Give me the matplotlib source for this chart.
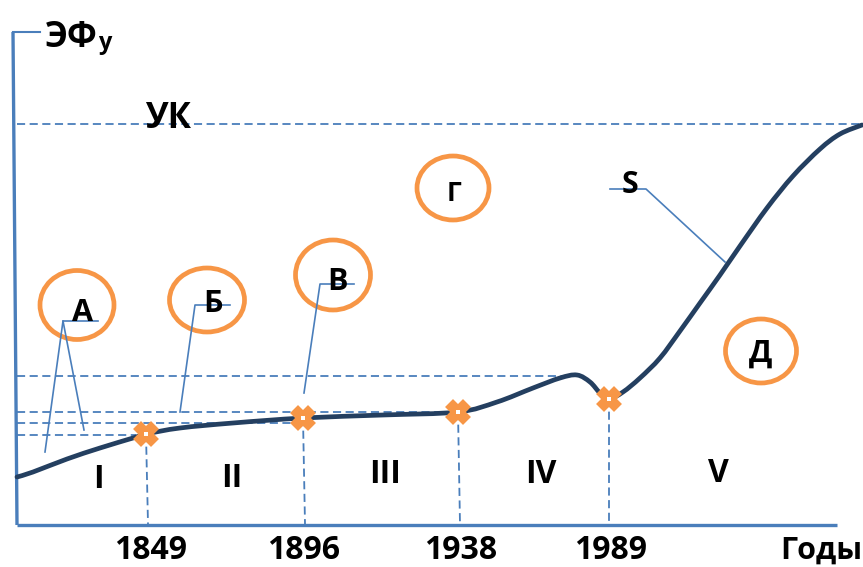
import numpy as np
import matplotlib.pyplot as plt
from matplotlib.patches import Ellipse, PathPatch
from matplotlib.path import Path

plt.rcParams['font.family'] = ['Open Sans', 'DejaVu Sans']
plt.rcParams['font.weight'] = 'bold'

# colours
axis_blue = '#4a7ebb'
curve_navy = '#243f60'
orange = '#f79646'

# ---------------------------------------------------------
# Data (pixel units, y counted from top)
# ---------------------------------------------------------
curve_x = [17, 33, 67, 100, 133, 146, 180, 233, 303, 383, 458, 497, 533, 560, 577,
           590, 600, 609, 623, 640, 660, 680, 700, 720, 740, 767, 793, 820, 840, 862]
curve_y = [477, 472, 459, 448, 438, 434, 428, 423, 418, 415, 412, 402, 388, 378, 375,
           382, 393, 399, 392, 378, 358, 331, 303, 275, 246, 208, 176, 149, 134, 125]

years = ['1849', '1896', '1938', '1989']
year_x = [151, 304, 461, 611]
node_x = [146, 303, 458, 609]
node_y = [434, 418, 412, 399]

periods = ['I', 'II', 'III', 'IV', 'V']
period_x = [98, 232, 385, 541, 718]
period_y = [488, 487, 483, 483, 482]

# dashed levels (y, right end)
level_y = [376, 412, 423, 435]
level_end = [575, 452, 296, 136]
uk_y = 124

# lettered circles
circle_labels = ['А', 'Б', 'В', 'Г', 'Д']
circle_x = [77, 207, 333, 453, 761]
circle_y = [305, 300, 275, 188, 351]
circle_w = [74, 75, 75, 72, 71]
circle_h = [69, 64, 70, 64, 64]
label_x = [82, 213, 337, 454, 761]
label_base = [321, 312, 290, 201, 362]
label_size = [22, 22, 22, 19, 22]

# callout leader lines
callouts = [
    [(98, 321), (63, 321), (45, 452)],
    [(63, 321), (84, 430)],
    [(230, 305), (195, 305), (180, 412)],
    [(354, 284), (320, 284), (304, 393)],
    [(610, 189), (646, 189), (725, 262)],
]


def smooth_path(xs, ys):
    # Catmull-Rom points -> cubic bezier path
    p = np.column_stack([xs, ys]).astype(float)
    p = np.vstack([p[0], p, p[-1]])
    verts = [p[1]]
    codes = [Path.MOVETO]
    for i in range(1, len(p) - 2):
        c1 = p[i] + (p[i + 1] - p[i - 1]) / 6
        c2 = p[i + 1] - (p[i + 2] - p[i]) / 6
        verts += [c1, c2, p[i + 1]]
        codes += [Path.CURVE4] * 3
    return Path(verts, codes)


fig = plt.figure(figsize=(8.63, 5.67), dpi=100)
ax = fig.add_axes([0, 0, 1, 1])
ax.set_xlim(0, 863)
ax.set_ylim(567, 0)
ax.axis('off')

dash = dict(color=axis_blue, lw=1.3, dashes=(4.5, 2.5))

# axes of the diagram
ax.plot([13, 17], [32, 525], color=axis_blue, lw=2.4, solid_capstyle='butt')
ax.plot([13, 40], [32, 32], color=axis_blue, lw=1.5)
ax.plot([17, 837], [525, 525], color=axis_blue, lw=2.4, solid_capstyle='butt')

# dashed guides
ax.plot([17, 863], [uk_y, uk_y], **dash)
for y, xe in zip(level_y, level_end):
    ax.plot([17, xe], [y, y], **dash)
for x, y in zip(node_x, node_y):
    ax.plot([x, x + (2 if x < 600 else 0)], [y, 524], **dash)

# callouts
for pts in callouts:
    xs, ys = zip(*pts)
    ax.plot(xs, ys, color=axis_blue, lw=1.2)

# main curve
ax.add_patch(PathPatch(smooth_path(curve_x, curve_y), fill=False,
                       edgecolor=curve_navy, lw=3.4, capstyle='round', zorder=3))

# nodes
ax.plot(node_x, node_y, 'X', ms=14, color=orange, mec=orange, mew=3,
        zorder=4)
ax.plot(node_x, node_y, 's', ms=2.2, color='white', mew=0, zorder=5)

# circles with letters
for lab, cx, cy, w, h, lx, lb, fs in zip(circle_labels, circle_x, circle_y, circle_w,
                                          circle_h, label_x, label_base, label_size):
    ax.add_patch(Ellipse((cx, cy), w, h, fill=False, edgecolor=orange, lw=3.4))
    ax.text(lx, lb, lab, fontsize=fs, ha='center', va='baseline')

ax.text(630, 193, 'S', fontsize=22, ha='center', va='baseline')

# period numerals
for p, x, y in zip(periods, period_x, period_y):
    ax.text(x, y, p, fontsize=23, ha='center', va='baseline')

# year labels
for lab, x in zip(years, year_x):
    ax.text(x, 559, lab, fontsize=23, ha='center', va='baseline')
ax.text(862, 559, 'Годы', fontsize=22, ha='right', va='baseline')

# titles
ax.text(45, 47, 'ЭФ', fontsize=25, ha='left', va='baseline')
ax.text(98, 49, 'у', fontsize=17, ha='left', va='baseline')
ax.text(168, 128, 'УК', fontsize=25, ha='center', va='baseline')

fig.savefig('out.png', dpi=100)
